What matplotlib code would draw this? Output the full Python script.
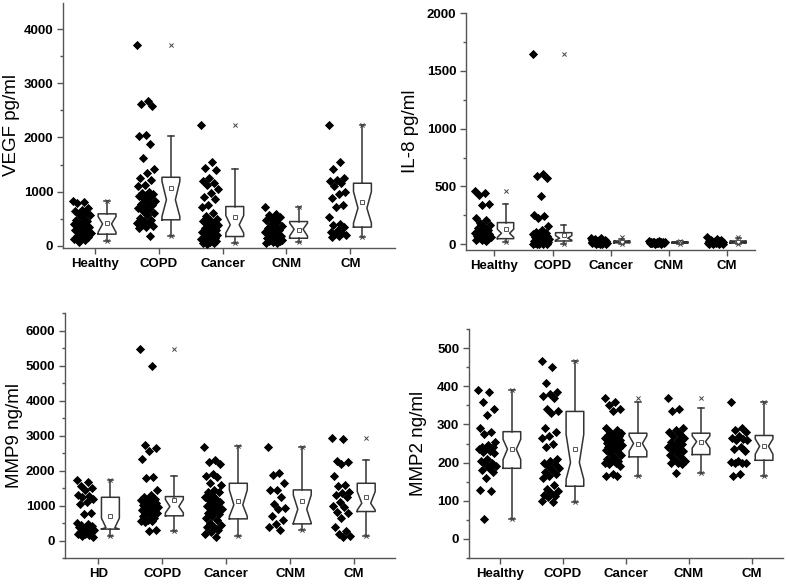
import numpy as np
import matplotlib
matplotlib.use('Agg')
import matplotlib.pyplot as plt
from matplotlib.ticker import MultipleLocator

plt.rcParams['font.family'] = ['Liberation Sans', 'DejaVu Sans']

groups_a = ['Healthy', 'COPD', 'Cancer', 'CNM', 'CM']
groups_c = ['HD', 'COPD', 'Cancer', 'CNM', 'CM']

# ---- VEGF pg/ml ----
vegf_pts = [
    [830, 810, 790, 700, 660, 640, 610, 590, 560, 520, 480, 450, 430, 400, 380, 360, 340, 310, 290, 270, 250, 230, 210, 190, 170, 150, 120, 100, 70],
    [3700, 2680, 2620, 2580, 2050, 2020, 1880, 1620, 1420, 1350, 1250, 1220, 1130, 1100, 1000, 980, 960, 940, 920, 900, 860, 830, 800, 780, 760, 720, 700, 680, 640, 600, 560, 520, 480, 450, 420, 400, 390, 370, 350, 330, 190],
    [2230, 1550, 1430, 1400, 1250, 1200, 1150, 1120, 1050, 980, 900, 870, 760, 720, 600, 550, 500, 480, 450, 420, 400, 380, 360, 330, 300, 280, 260, 240, 220, 200, 180, 160, 150, 130, 120, 100, 90, 80, 70, 60, 50, 40],
    [720, 590, 560, 530, 500, 470, 440, 400, 370, 350, 330, 300, 280, 250, 220, 200, 180, 160, 150, 130, 120, 110, 100, 90, 80, 70, 60, 50],
    [2230, 1550, 1420, 1250, 1220, 1200, 1150, 1100, 1000, 950, 880, 760, 720, 540, 400, 380, 350, 300, 260, 240, 220, 200, 180, 170],
]
vegf_q1 = [215, 480, 172, 140, 345]
vegf_med = [405, 850, 387, 307, 695]
vegf_q3 = [590, 1265, 725, 448, 1155]
vegf_lo = [80, 190, 50, 62, 170]
vegf_hi = [835, 2033, 1420, 725, 2230]
vegf_mean = [430, 1063, 540, 300, 800]
vegf_cilo = [250, 540, 234, 180, 420]
vegf_cihi = [540, 1190, 560, 420, 1000]
vegf_max = [835, 3705, 2230, 725, 2230]

# ---- IL-8 pg/ml ----
il8_pts = [
    [460, 440, 430, 345, 340, 230, 210, 180, 170, 150, 140, 120, 110, 100, 95, 90, 85, 80, 75, 70, 65, 60, 55, 50, 45, 40, 35, 30],
    [1648, 610, 590, 570, 420, 250, 240, 230, 160, 120, 110, 100, 95, 90, 85, 80, 75, 70, 60, 55, 50, 45, 40, 35, 30, 28, 25, 20, 18, 15, 12, 10, 8, 6, 5, 4, 3, 2],
    [55, 50, 45, 40, 38, 35, 32, 30, 28, 26, 25, 24, 22, 20, 19, 18, 17, 16, 15, 14, 13, 12, 11, 10, 9, 8, 7, 6, 5, 4, 3],
    [28, 25, 22, 20, 19, 18, 17, 16, 15, 14, 14, 13, 12, 11, 10, 10, 9, 8, 7, 6, 5],
    [60, 45, 38, 35, 30, 28, 25, 22, 20, 18, 16, 15, 14, 12, 10, 9, 8, 7, 6, 5, 4, 3],
]
il8_q1 = [48, 28, 12, 10, 10]
il8_med = [95, 52, 20, 15, 18]
il8_q3 = [187, 100, 28, 20, 28]
il8_lo = [22, 3, 3, 5, 3]
il8_hi = [346, 164, 45, 25, 50]
il8_mean = [132, 80, 22, 15, 20]
il8_cilo = [60, 35, 15, 12, 14]
il8_cihi = [130, 75, 25, 18, 24]
il8_max = [464, 1648, 60, 25, 60]

# ---- MMP9 ng/ml ----
mmp9_pts = [
    [1730, 1680, 1550, 1500, 1450, 1300, 1280, 1250, 1200, 1100, 1050, 800, 750, 500, 480, 450, 420, 400, 380, 350, 320, 300, 280, 250, 220, 200, 180, 150, 120, 100],
    [5480, 4980, 2720, 2650, 2550, 2330, 1820, 1800, 1450, 1300, 1250, 1200, 1180, 1150, 1120, 1100, 1080, 1050, 1020, 1000, 980, 960, 950, 930, 900, 880, 860, 840, 800, 780, 750, 700, 650, 600, 570, 550, 520, 300, 270],
    [2680, 2300, 2250, 2200, 1900, 1850, 1820, 1650, 1600, 1450, 1400, 1380, 1300, 1250, 1200, 1150, 1100, 1050, 1000, 950, 920, 900, 850, 800, 750, 700, 650, 600, 500, 450, 400, 380, 300, 250, 180, 100],
    [2680, 1920, 1880, 1650, 1450, 1430, 1230, 1050, 920, 900, 700, 600, 480, 400, 300],
    [2920, 2900, 2280, 2250, 2200, 1850, 1600, 1550, 1400, 1350, 1300, 1250, 1100, 1000, 950, 820, 800, 650, 380, 280, 180, 130, 100],
]
mmp9_q1 = [325, 705, 618, 475, 828]
mmp9_med = [370, 970, 1017, 893, 1065]
mmp9_q3 = [1235, 1255, 1635, 1445, 1635]
mmp9_lo = [115, 285, 115, 290, 115]
mmp9_hi = [1730, 1843, 2698, 2680, 2300]
mmp9_mean = [712, 1150, 1130, 1140, 1235]
mmp9_cilo = [325, 790, 690, 500, 870]
mmp9_cihi = [637, 1170, 1445, 1300, 1400]
mmp9_max = [1730, 5480, 2698, 2680, 2917]

# ---- MMP2 ng/ml ----
mmp2_pts = [
    [390, 385, 360, 340, 325, 290, 280, 275, 255, 245, 240, 240, 238, 235, 230, 228, 225, 210, 205, 200, 195, 190, 185, 180, 175, 160, 128, 125, 52],
    [465, 450, 408, 385, 380, 375, 370, 340, 335, 330, 290, 280, 270, 265, 250, 240, 210, 205, 200, 195, 190, 185, 180, 175, 170, 165, 160, 140, 130, 125, 120, 115, 112, 110, 100, 96],
    [370, 360, 350, 340, 335, 290, 285, 280, 278, 275, 272, 270, 268, 265, 262, 260, 258, 255, 252, 250, 248, 245, 242, 240, 238, 235, 232, 230, 225, 220, 215, 210, 205, 205, 200, 200, 195, 190, 170, 165, 165],
    [370, 340, 335, 290, 285, 280, 275, 270, 265, 260, 255, 250, 245, 240, 235, 232, 230, 225, 220, 215, 210, 205, 200, 198, 195, 172],
    [358, 290, 285, 280, 270, 265, 262, 260, 258, 240, 235, 230, 205, 202, 200, 200, 198, 170, 165],
]
mmp2_q1 = [185, 138, 215, 221, 206]
mmp2_med = [235, 200, 250, 255, 243]
mmp2_q3 = [281, 334, 277, 277, 271]
mmp2_lo = [52, 96, 165, 173, 165]
mmp2_hi = [390, 465, 359, 344, 359]
mmp2_mean = [235, 235, 250, 255, 243]
mmp2_cilo = [208, 156, 230, 238, 222]
mmp2_cihi = [261, 274, 270, 270, 262]
mmp2_max = [390, 465, 370, 370, 359]

W, H = 787, 584
fig = plt.figure(figsize=(W / 100, H / 100), dpi=100)

box_col = '#333333'
axis_col = '#555555'


def panel(rect_px, labels, pts, q1, med, q3, lo, hi, mean, cilo, cihi, vmax,
          ylim, major, minor, xlim, ylabel, label_x):
    l, t, r, b = rect_px
    ax = fig.add_axes([l / W, 1 - b / H, (r - l) / W, (b - t) / H])
    pos = np.arange(1, len(labels) + 1)

    # jittered diamonds left of each tick
    for i, vals in enumerate(pts):
        n = len(vals)
        off = ((np.arange(n) * 0.618034) % 1) * 2 - 1
        ax.scatter(pos[i] - 0.2 + 0.14 * off, vals, marker='D', s=22,
                   color='black', linewidths=0, zorder=3, clip_on=False)

    stats = []
    for i in range(len(labels)):
        stats.append(dict(q1=q1[i], med=med[i], q3=q3[i], whislo=lo[i],
                          whishi=hi[i], mean=mean[i], cilo=cilo[i],
                          cihi=cihi[i], fliers=[]))
    ax.bxp(stats, positions=pos + 0.19, widths=0.28, shownotches=True,
           showmeans=True, capwidths=0.09,
           boxprops=dict(color=box_col, lw=1.1),
           whiskerprops=dict(color=box_col, lw=1.1),
           capprops=dict(color=box_col, lw=1.1),
           medianprops=dict(linewidth=0),
           meanprops=dict(marker='s', markersize=2.5, markerfacecolor='white',
                          markeredgecolor='#555555', markeredgewidth=0.7))
    ax.scatter(pos + 0.19, vmax, marker='x', s=9, color='#444444',
               linewidths=0.7, zorder=4)
    ax.scatter(pos + 0.19, lo, marker='x', s=9, color='#444444',
               linewidths=0.7, zorder=4)

    ax.set_xlim(*xlim)
    ax.set_ylim(*ylim)
    ax.set_xticks(pos)
    ax.set_xticklabels(labels)
    ax.yaxis.set_major_locator(MultipleLocator(major))
    ax.yaxis.set_minor_locator(MultipleLocator(minor))
    for s in ['top', 'right']:
        ax.spines[s].set_visible(False)
    for s in ['left', 'bottom']:
        ax.spines[s].set_color(axis_col)
        ax.spines[s].set_linewidth(1.0)
    ax.tick_params(axis='both', which='major', direction='out', length=4,
                   width=1, color=axis_col, labelsize=9.5, pad=3)
    ax.tick_params(axis='y', which='minor', direction='out', length=2.5,
                   width=1, color=axis_col)
    for lab in ax.get_xticklabels() + ax.get_yticklabels():
        lab.set_fontweight('bold')
    ax.set_ylabel(ylabel, fontsize=13.5)
    # label_x is the right edge of the rotated label, in figure pixels
    ax.yaxis.set_label_coords((label_x - l) / (r - l), 0.5)
    return ax


panel((63, 3, 395, 248), groups_a, vegf_pts, vegf_q1, vegf_med, vegf_q3,
      vegf_lo, vegf_hi, vegf_mean, vegf_cilo, vegf_cihi, vegf_max,
      (-40, 4480), 1000, 500, (0.5, 5.7), 'VEGF pg/ml', 20)
panel((466, 13, 755, 250), groups_a, il8_pts, il8_q1, il8_med, il8_q3,
      il8_lo, il8_hi, il8_mean, il8_cilo, il8_cihi, il8_max,
      (-50, 2000), 500, 250, (0.51, 5.48), 'IL-8 pg/ml', 419)
panel((65, 313, 395, 558), groups_c, mmp9_pts, mmp9_q1, mmp9_med, mmp9_q3,
      mmp9_lo, mmp9_hi, mmp9_mean, mmp9_cilo, mmp9_cihi, mmp9_max,
      (-500, 6500), 1000, 500, (0.48, 5.64), 'MMP9 ng/ml', 23)
panel((469, 329, 783, 558), groups_a, mmp2_pts, mmp2_q1, mmp2_med, mmp2_q3,
      mmp2_lo, mmp2_hi, mmp2_mean, mmp2_cilo, mmp2_cihi, mmp2_max,
      (-50, 550), 100, 50, (0.51, 5.49), 'MMP2 ng/ml', 427)

fig.savefig('out.png', dpi=100)
